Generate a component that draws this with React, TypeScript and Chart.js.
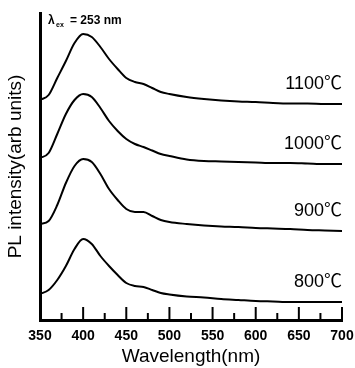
import { useEffect, useRef } from "react";
import { Chart, registerables } from "chart.js";

Chart.register(...registerables);

const wavelengths = [350, 360, 370, 380, 390, 400, 410, 420, 430, 440, 450, 460, 470, 480, 490, 500, 520, 540, 560, 580, 600, 620, 640, 660, 680, 700];

const series1100 = [220, 225, 242, 259, 277, 286, 283, 273, 261, 251, 242, 238, 236, 232, 228, 226, 223, 221, 219.5, 218.5, 218, 217, 216.5, 216.5, 216, 216];
const series1000 = [162, 167, 186, 206, 220, 226, 223, 212, 199, 189, 181, 176, 173, 169.5, 166, 164, 160.5, 159, 158.5, 158, 157.5, 157, 157, 156.5, 156, 156];
const series900 = [96, 99, 115, 137, 154, 161, 158, 146, 131, 120, 111, 108, 108, 104, 100, 98, 96, 94.5, 93.5, 93, 92, 91.5, 91, 90, 89.5, 89];
const series800 = [26, 30, 40, 54, 71, 81, 76, 64, 54, 45, 37, 34, 33, 30, 27, 25.5, 23.5, 22.5, 21, 20, 19, 18.5, 18, 18, 18, 18];

const seriesNames = ["1100℃", "1000℃", "900℃", "800℃"];
const seriesValues = [series1100, series1000, series900, series800];

const xMin = 350;
const xMax = 700;
const xStep = 25;
const yMin = 0;
const yMax = 307;

const FONT = "'Liberation Sans', Arial, 'Noto Sans CJK SC', sans-serif";

const decorPlugin = {
  id: "decor",
  afterDraw(chart: any) {
    const { ctx, chartArea, scales } = chart;
    const x = scales.x;
    const y = scales.y;
    ctx.save();
    // inward tick marks
    ctx.strokeStyle = "#000";
    ctx.lineWidth = 2;
    x.ticks.forEach((t: any) => {
      const px = x.getPixelForValue(t.value);
      const major = t.value % 50 === 0;
      const len = major ? 13 : 7;
      ctx.beginPath();
      ctx.moveTo(px, chartArea.bottom);
      ctx.lineTo(px, chartArea.bottom - len);
      ctx.stroke();
    });
    // series labels
    ctx.fillStyle = "#000";
    ctx.font = "18px " + FONT;
    ctx.textAlign = "right";
    ctx.textBaseline = "middle";
    chart.data.datasets.forEach((ds: any) => {
      const last = ds.data[ds.data.length - 1];
      ctx.fillText(ds.label, x.getPixelForValue(last.x), y.getPixelForValue(last.y) - 20);
    });
    // excitation label
    ctx.textAlign = "left";
    ctx.font = "bold 12px " + FONT;
    ctx.fillText("λ", chartArea.left + 8, chartArea.top + 8);
    ctx.font = "bold 7px " + FONT;
    ctx.fillText("ex", chartArea.left + 16, chartArea.top + 12);
    ctx.font = "bold 12px " + FONT;
    ctx.fillText("= 253 nm", chartArea.left + 30, chartArea.top + 8);
    ctx.restore();
  },
};

export default function App() {
  const canvasRef = useRef<HTMLCanvasElement | null>(null);

  useEffect(() => {
    if (!canvasRef.current) return;
    const datasets = seriesValues.map((vals, i) => ({
      label: seriesNames[i],
      data: wavelengths.map((w, j) => ({ x: w, y: vals[j] })),
      borderColor: "#000",
      backgroundColor: "#000",
      borderWidth: 2,
      pointRadius: 0,
      cubicInterpolationMode: "monotone" as const,
      fill: false,
    }));
    const chart = new Chart(canvasRef.current, {
      type: "line",
      data: { datasets },
      plugins: [decorPlugin],
      options: {
        animation: false,
        responsive: true,
        maintainAspectRatio: false,
        layout: { padding: { top: 13, right: 13, left: 0, bottom: 0 } },
        plugins: {
          legend: { display: false },
          tooltip: { enabled: false },
        },
        scales: {
          x: {
            type: "linear",
            min: xMin,
            max: xMax,
            grid: { display: false },
            border: { display: true, color: "#000", width: 3 },
            ticks: {
              stepSize: xStep,
              autoSkip: false,
              maxRotation: 0,
              padding: 0,
              color: "#000",
              font: { family: FONT, size: 14, weight: "bold" },
              callback: (v: any) => (Number(v) % 50 === 0 ? String(v) : ""),
            },
            title: {
              display: true,
              text: "Wavelength(nm)",
              color: "#000",
              font: { family: FONT, size: 19 },
              padding: { top: 0, bottom: 0 },
            },
            afterFit: (scale: any) => {
              scale.height = 48;
            },
          },
          y: {
            type: "linear",
            min: yMin,
            max: yMax,
            grid: { display: false },
            border: { display: true, color: "#000", width: 3 },
            ticks: { display: false },
            title: {
              display: true,
              text: "PL intensity(arb units)",
              color: "#000",
              font: { family: FONT, size: 19 },
              padding: { top: 4, bottom: 0 },
            },
            afterFit: (scale: any) => {
              scale.width = 40;
            },
          },
        },
      },
    });
    return () => chart.destroy();
  }, []);

  return (
    <div style={{ position: "fixed", left: 0, top: 0, width: 355, height: 368, background: "#fff" }}>
      <canvas ref={canvasRef} />
    </div>
  );
}
